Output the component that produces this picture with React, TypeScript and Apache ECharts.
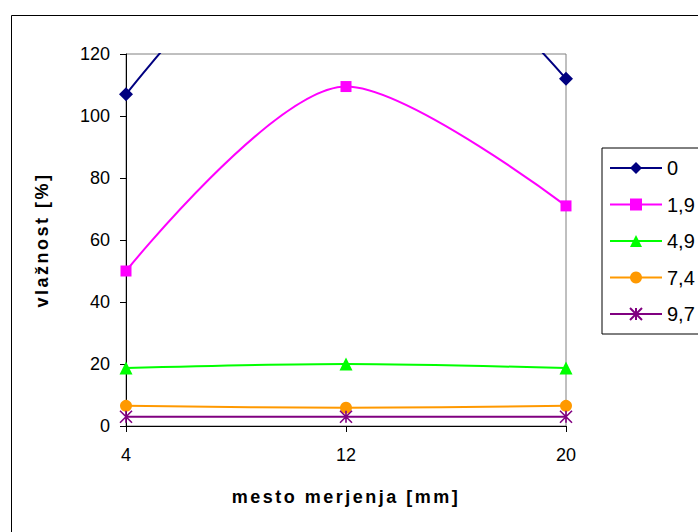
import React, { useEffect, useRef } from "react";
import * as echarts from "echarts";

// Measurement positions along the sample [mm]
const categories = ["4", "12", "20"];

// Moisture content [%] for each drying time
const seriesNames = ["0", "1,9", "4,9", "7,4", "9,7"];
const values0 = [107, 170, 112];
const values19 = [50, 109.5, 71];
const values49 = [18.7, 20, 18.7];
const values74 = [6.5, 5.9, 6.5];
const values97 = [3, 3, 3];

const yTicks = { min: 0, max: 120, interval: 20 };

const FONT = '"Liberation Sans", Arial, sans-serif';

// asterisk marker built from three strokes
const ASTERISK = "path://M0,0L10,10M10,0L0,10M5,0L5,10";

function makeSeries(
  name: string,
  data: number[],
  color: string,
  symbol: string,
  symbolSize: number,
  stroked = false
) {
  return {
    name,
    type: "line",
    data,
    smooth: 0.3,
    symbol,
    symbolSize,
    clip: true,
    lineStyle: { color, width: 2 },
    itemStyle: stroked
      ? { color, borderColor: color, borderWidth: 1.6 }
      : { color, borderWidth: 0 },
    emphasis: { disabled: true },
  };
}

export default function App() {
  const ref = useRef<HTMLDivElement>(null);

  useEffect(() => {
    if (!ref.current) return;
    const chart = echarts.init(ref.current, undefined, { renderer: "svg" });
    chart.setOption({
      animation: false,
      backgroundColor: "#ffffff",
      textStyle: { fontFamily: FONT },
      graphic: [
        {
          type: "rect",
          shape: { x: 11.5, y: 15.5, width: 800, height: 600 },
          style: { fill: "none", stroke: "#000000", lineWidth: 1 },
          z: -10,
        },
      ],
      grid: {
        left: 126,
        right: 132,
        top: 54,
        bottom: 106,
        show: true,
        borderColor: "#808080",
        borderWidth: 1,
        backgroundColor: "transparent",
      },
      legend: {
        orient: "vertical",
        left: 602,
        top: 148,
        padding: [10, 40, 10, 7],
        itemWidth: 52,
        itemHeight: 15,
        itemGap: 16.5,
        borderColor: "#000000",
        borderWidth: 1,
        textStyle: { fontSize: 20, color: "#000000", fontFamily: FONT },
        data: seriesNames,
      },
      xAxis: {
        type: "category",
        data: categories,
        boundaryGap: false,
        name: "mesto merjenja [mm]",
        nameLocation: "middle",
        nameGap: 62,
        nameTextStyle: {
          fontSize: 18,
          fontWeight: "bold",
          color: "#000000",
          fontFamily: FONT,
        },
        axisLine: { lineStyle: { color: "#000000", width: 1 } },
        axisTick: {
          show: true,
          length: 6,
          alignWithLabel: true,
          lineStyle: { color: "#000000" },
        },
        axisLabel: {
          fontSize: 18,
          color: "#000000",
          margin: 20,
          fontFamily: FONT,
        },
        splitLine: { show: false },
      },
      yAxis: {
        type: "value",
        min: yTicks.min,
        max: yTicks.max,
        interval: yTicks.interval,
        name: "vlažnost [%]",
        nameLocation: "middle",
        nameGap: 75,
        nameTextStyle: {
          fontSize: 18,
          fontWeight: "bold",
          color: "#000000",
          fontFamily: FONT,
        },
        axisLine: { show: true, lineStyle: { color: "#000000", width: 1 } },
        axisTick: { show: true, length: 6, lineStyle: { color: "#000000" } },
        axisLabel: {
          fontSize: 18,
          color: "#000000",
          margin: 16,
          fontFamily: FONT,
        },
        splitLine: { show: false },
      },
      series: [
        makeSeries(seriesNames[0], values0, "#000080", "diamond", 14),
        makeSeries(seriesNames[1], values19, "#FF00FF", "rect", 11),
        makeSeries(seriesNames[2], values49, "#00FF00", "triangle", 13),
        makeSeries(seriesNames[3], values74, "#FF9900", "circle", 12),
        makeSeries(seriesNames[4], values97, "#800080", ASTERISK, 12, true),
      ],
    });
    return () => chart.dispose();
  }, []);

  return (
    <>
      <style>{`.chart-box svg text[style*="bold"] { letter-spacing: 2.5px; }`}</style>
      <div
        className="chart-box"
        ref={ref}
        style={{ position: "absolute", left: 0, top: 0, width: 698, height: 532 }}
      />
    </>
  );
}
